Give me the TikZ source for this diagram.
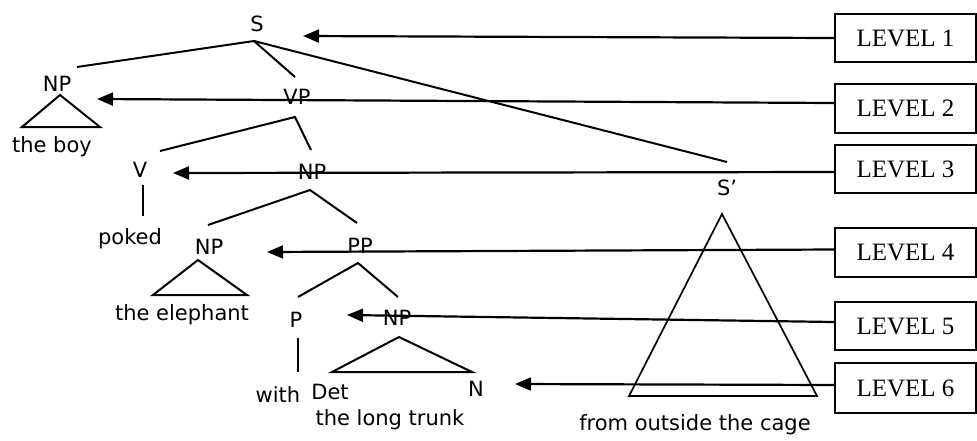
\documentclass[tikz,border=0pt]{standalone}
\usepackage{fontspec}
\setmainfont{DejaVu Sans}
\newfontfamily\levelfont{Liberation Serif}
\usetikzlibrary{arrows.meta}
\begin{document}
\begin{tikzpicture}[x=1pt,y=-1pt,
  lab/.style={inner sep=0pt,font=\fontsize{21}{24}\selectfont},
  branch/.style={line width=2pt},
  levelbox/.style={draw,line width=2.2pt,minimum width=141pt,inner sep=0pt,
    font=\levelfont\fontsize{25}{29}\selectfont},
  arr/.style={line width=2.2pt,-{Triangle[length=16pt,width=13pt]}}]
\useasboundingbox (0,0) rectangle (977,440);

% category labels and words
\node[lab] (S)   at (257,24)  {S};
\node[lab] (NPa) at (57,84)   {NP};
\node[lab] (boy) at (52,147)  {the boy};
\node[lab] (VP)  at (297,97)  {VP};
\node[lab] (V)   at (140,170) {V};
\node[lab] (pok) at (130,239) {poked};
\node[lab] (NPb) at (312,172) {NP};
\node[lab] (NPc) at (209,247) {NP};
\node[lab] (ele) at (182,315) {the elephant};
\node[lab] (PP)  at (360,246) {PP};
\node[lab] (P)   at (296,320) {P};
\node[lab] (with) at (278,395) {with};
\node[lab] (NPd) at (397,318) {NP};
\node[lab] (Det) at (330,392) {Det};
\node[lab] (N)   at (476,389) {N};
\node[lab] (tru) at (390,420) {the long trunk};
\node[lab] (Sp)  at (727,188) {S'};
\node[lab] (cage) at (695,425) {from outside the cage};

% branch points and branch ends
\coordinate (Sb)  at (254,41);
\coordinate (NPaT) at (77,67);
\coordinate (VPT) at (295,77);
\coordinate (SpT) at (727,162);
\coordinate (VPb) at (295,117);
\coordinate (VT)  at (160,151);
\coordinate (NPbT) at (311,150);
\coordinate (NPbb) at (310,190);
\coordinate (NPcT) at (208,225);
\coordinate (PPT) at (357,223);
\coordinate (PPb) at (358,263);
\coordinate (PT)  at (298,297);
\coordinate (NPdT) at (398,297);
\coordinate (Vb)  at (143,185);
\coordinate (pokT) at (143,216);
\coordinate (Pb)  at (298,338);
\coordinate (withT) at (298,372);

\draw[branch] (NPaT) -- (Sb) -- (VPT);
\draw[branch] (Sb) -- (SpT);
\draw[branch] (VT) -- (VPb) -- (NPbT);
\draw[branch] (NPcT) -- (NPbb) -- (PPT);
\draw[branch] (PT) -- (PPb) -- (NPdT);
\draw[branch] (Vb) -- (pokT);
\draw[branch] (Pb) -- (withT);

% roof triangles
\draw[branch] (60,95) -- (22,127) -- (100,127) -- cycle;
\draw[branch] (198,260) -- (153,295) -- (247,295) -- cycle;
\draw[branch] (399,337) -- (332,372) -- (472,372) -- cycle;
\draw[line width=1.7pt] (722,214) -- (629,396) -- (817,396) -- cycle;

% level boxes
\node[levelbox,minimum height=48pt] (L1) at (905.5,38)  {LEVEL 1};
\node[levelbox,minimum height=49pt] (L2) at (905.5,108.5) {LEVEL 2};
\node[levelbox,minimum height=48pt] (L3) at (905.5,169) {LEVEL 3};
\node[levelbox,minimum height=49pt] (L4) at (905.5,252.5) {LEVEL 4};
\node[levelbox,minimum height=48pt] (L5) at (905.5,326) {LEVEL 5};
\node[levelbox,minimum height=50pt] (L6) at (905.5,388) {LEVEL 6};

% arrow tips
\coordinate (t1) at (303,36);
\coordinate (t2) at (97,99);
\coordinate (t3) at (173,173);
\coordinate (t4) at (267,252);
\coordinate (t5) at (347,315);
\coordinate (t6) at (515,384);

\draw[arr] (L1.west) -- (t1);
\draw[arr] ([yshift=5.5pt]L2.west) -- (t2);
\draw[arr] ([yshift=-3pt]L3.west) -- (t3);
\draw[arr] ([yshift=3pt]L4.west) -- (t4);
\draw[arr] ([yshift=4pt]L5.west) -- (t5);
\draw[arr] ([yshift=3pt]L6.west) -- (t6);
\end{tikzpicture}
\end{document}
